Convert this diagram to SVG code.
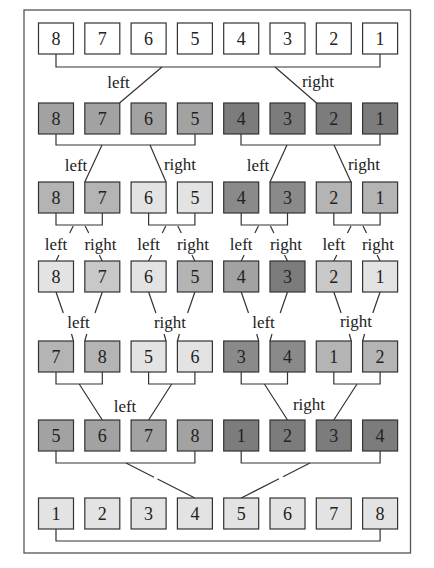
<svg xmlns="http://www.w3.org/2000/svg" width="434" height="568" viewBox="0 0 434 568">
<style>
.b{stroke:#333;stroke-width:1.2}
.t{font-family:"Liberation Serif","Times New Roman",serif;font-size:18px;fill:#222;text-anchor:middle}
.l{font-family:"Liberation Serif","Times New Roman",serif;font-size:17px;fill:#222;text-anchor:middle}
.c{fill:none;stroke:#333;stroke-width:1.2}
.w{fill:#fff}.g1{fill:#e3e3e3}.g2{fill:#c8c8c8}.g3{fill:#b4b4b4}.g4{fill:#a2a2a2}.g5{fill:#8a8a8a}.g6{fill:#7c7c7c}
</style>
<rect x="24" y="10" width="386.5" height="543" fill="#fff" stroke="#555" stroke-width="1.3"/>
<g id="connectors" class="c">
<path d="M56 54V67H380V54"/>
<path d="M162 67L119.5 103M275 67L316.5 103"/>
<path d="M56 134V145H195V134M241 134V145H380V134"/>
<path d="M102 145L84.8 182M150 145L166 182M287 145L270 182M334 145L351 182"/>
<path d="M56 213V225H102.3V213M148.6 213V225H194.9V213M241.2 213V225H287.5V213M333.8 213V225H380.1V213"/>
<path d="M73.2 226L69.7 233M59 255L56 261M85.2 226L88.7 233M99.3 255L102.3 261"/>
<path d="M165.8 226L162.3 233M151.6 255L148.6 261M177.8 226L181.3 233M191.9 255L194.9 261"/>
<path d="M258.4 226L254.9 233M244.2 255L241.2 261M270.4 226L273.9 233M284.5 255L287.5 261"/>
<path d="M351 226L347.5 233M336.8 255L333.8 261M363 226L366.5 233M377.1 255L380.1 261"/>
<path d="M56 292L63.3 313M71.5 334L73.5 341M102.3 292L95 313M86.8 334L84.8 341"/>
<path d="M148.6 292L155.9 313M164.1 334L166 341M194.9 292L187.6 313M179.4 334L177.4 341"/>
<path d="M241.2 292L248.5 313M256.7 334L258.7 341M287.5 292L280.2 313M272 334L270 341"/>
<path d="M333.8 292L341.1 313M349.3 334L351.3 341M380.1 292L372.8 313M364.6 334L362.6 341"/>
<path d="M56 372V384H102.3V372M148.6 372V384H194.9V372M241.2 372V384H287.5V372M333.8 372V384H380.1V372"/>
<path d="M79.2 384L102.3 420M171.7 384L148.6 420M264.4 384L287.5 420M357 384L333.8 420"/>
<path d="M56 451V463H194.9V451M241.2 451V463H380.1V451"/>
<path d="M126 463L154 477.3M157.5 479L194.9 498M310 463L283 476.7M279 478.8L241.2 498"/>
<path d="M56 529V541H380.1V529"/>
</g>
<g id="labels">
<text class="l" x="118.5" y="88">left</text>
<text class="l" x="318" y="87">right</text>
<text class="l" x="76" y="170.5">left</text>
<text class="l" x="180" y="170">right</text>
<text class="l" x="258" y="170.5">left</text>
<text class="l" x="364" y="170">right</text>
<text class="l" x="56" y="250">left</text>
<text class="l" x="100.5" y="250">right</text>
<text class="l" x="148.6" y="250">left</text>
<text class="l" x="193" y="250">right</text>
<text class="l" x="241.2" y="250">left</text>
<text class="l" x="286" y="250">right</text>
<text class="l" x="333.8" y="250">left</text>
<text class="l" x="378" y="250">right</text>
<text class="l" x="78.5" y="328">left</text>
<text class="l" x="170" y="328">right</text>
<text class="l" x="263.5" y="328">left</text>
<text class="l" x="356" y="327">right</text>
<text class="l" x="125" y="411.5">left</text>
<text class="l" x="309" y="410">right</text>
</g>
<g id="row1">
<g id="r1n0"><rect class="b w" x="38.5" y="23" width="35" height="31"/><text class="t" x="56" y="45">8</text></g>
<g id="r1n1"><rect class="b w" x="84.8" y="23" width="35" height="31"/><text class="t" x="102.3" y="45">7</text></g>
<g id="r1n2"><rect class="b w" x="131.1" y="23" width="35" height="31"/><text class="t" x="148.6" y="45">6</text></g>
<g id="r1n3"><rect class="b w" x="177.4" y="23" width="35" height="31"/><text class="t" x="194.9" y="45">5</text></g>
<g id="r1n4"><rect class="b w" x="223.7" y="23" width="35" height="31"/><text class="t" x="241.2" y="45">4</text></g>
<g id="r1n5"><rect class="b w" x="270" y="23" width="35" height="31"/><text class="t" x="287.5" y="45">3</text></g>
<g id="r1n6"><rect class="b w" x="316.3" y="23" width="35" height="31"/><text class="t" x="333.8" y="45">2</text></g>
<g id="r1n7"><rect class="b w" x="362.6" y="23" width="35" height="31"/><text class="t" x="380.1" y="45">1</text></g>
</g>
<g id="row2">
<g id="r2n0"><rect class="b g4" x="38.5" y="103" width="35" height="31"/><text class="t" x="56" y="125">8</text></g>
<g id="r2n1"><rect class="b g4" x="84.8" y="103" width="35" height="31"/><text class="t" x="102.3" y="125">7</text></g>
<g id="r2n2"><rect class="b g4" x="131.1" y="103" width="35" height="31"/><text class="t" x="148.6" y="125">6</text></g>
<g id="r2n3"><rect class="b g4" x="177.4" y="103" width="35" height="31"/><text class="t" x="194.9" y="125">5</text></g>
<g id="r2n4"><rect class="b g6" x="223.7" y="103" width="35" height="31"/><text class="t" x="241.2" y="125">4</text></g>
<g id="r2n5"><rect class="b g6" x="270" y="103" width="35" height="31"/><text class="t" x="287.5" y="125">3</text></g>
<g id="r2n6"><rect class="b g6" x="316.3" y="103" width="35" height="31"/><text class="t" x="333.8" y="125">2</text></g>
<g id="r2n7"><rect class="b g6" x="362.6" y="103" width="35" height="31"/><text class="t" x="380.1" y="125">1</text></g>
</g>
<g id="row3">
<g id="r3n0"><rect class="b g3" x="38.5" y="182" width="35" height="31"/><text class="t" x="56" y="204">8</text></g>
<g id="r3n1"><rect class="b g3" x="84.8" y="182" width="35" height="31"/><text class="t" x="102.3" y="204">7</text></g>
<g id="r3n2"><rect class="b g1" x="131.1" y="182" width="35" height="31"/><text class="t" x="148.6" y="204">6</text></g>
<g id="r3n3"><rect class="b g1" x="177.4" y="182" width="35" height="31"/><text class="t" x="194.9" y="204">5</text></g>
<g id="r3n4"><rect class="b g5" x="223.7" y="182" width="35" height="31"/><text class="t" x="241.2" y="204">4</text></g>
<g id="r3n5"><rect class="b g5" x="270" y="182" width="35" height="31"/><text class="t" x="287.5" y="204">3</text></g>
<g id="r3n6"><rect class="b g3" x="316.3" y="182" width="35" height="31"/><text class="t" x="333.8" y="204">2</text></g>
<g id="r3n7"><rect class="b g3" x="362.6" y="182" width="35" height="31"/><text class="t" x="380.1" y="204">1</text></g>
</g>
<g id="row4">
<g id="r4n0"><rect class="b g1" x="38.5" y="261" width="35" height="31"/><text class="t" x="56" y="283">8</text></g>
<g id="r4n1"><rect class="b g2" x="84.8" y="261" width="35" height="31"/><text class="t" x="102.3" y="283">7</text></g>
<g id="r4n2"><rect class="b g1" x="131.1" y="261" width="35" height="31"/><text class="t" x="148.6" y="283">6</text></g>
<g id="r4n3"><rect class="b g3" x="177.4" y="261" width="35" height="31"/><text class="t" x="194.9" y="283">5</text></g>
<g id="r4n4"><rect class="b g4" x="223.7" y="261" width="35" height="31"/><text class="t" x="241.2" y="283">4</text></g>
<g id="r4n5"><rect class="b g6" x="270" y="261" width="35" height="31"/><text class="t" x="287.5" y="283">3</text></g>
<g id="r4n6"><rect class="b g2" x="316.3" y="261" width="35" height="31"/><text class="t" x="333.8" y="283">2</text></g>
<g id="r4n7"><rect class="b g1" x="362.6" y="261" width="35" height="31"/><text class="t" x="380.1" y="283">1</text></g>
</g>
<g id="row5">
<g id="r5n0"><rect class="b g3" x="38.5" y="341" width="35" height="31"/><text class="t" x="56" y="363">7</text></g>
<g id="r5n1"><rect class="b g3" x="84.8" y="341" width="35" height="31"/><text class="t" x="102.3" y="363">8</text></g>
<g id="r5n2"><rect class="b g1" x="131.1" y="341" width="35" height="31"/><text class="t" x="148.6" y="363">5</text></g>
<g id="r5n3"><rect class="b g1" x="177.4" y="341" width="35" height="31"/><text class="t" x="194.9" y="363">6</text></g>
<g id="r5n4"><rect class="b g5" x="223.7" y="341" width="35" height="31"/><text class="t" x="241.2" y="363">3</text></g>
<g id="r5n5"><rect class="b g5" x="270" y="341" width="35" height="31"/><text class="t" x="287.5" y="363">4</text></g>
<g id="r5n6"><rect class="b g3" x="316.3" y="341" width="35" height="31"/><text class="t" x="333.8" y="363">1</text></g>
<g id="r5n7"><rect class="b g3" x="362.6" y="341" width="35" height="31"/><text class="t" x="380.1" y="363">2</text></g>
</g>
<g id="row6">
<g id="r6n0"><rect class="b g4" x="38.5" y="420" width="35" height="31"/><text class="t" x="56" y="442">5</text></g>
<g id="r6n1"><rect class="b g4" x="84.8" y="420" width="35" height="31"/><text class="t" x="102.3" y="442">6</text></g>
<g id="r6n2"><rect class="b g4" x="131.1" y="420" width="35" height="31"/><text class="t" x="148.6" y="442">7</text></g>
<g id="r6n3"><rect class="b g4" x="177.4" y="420" width="35" height="31"/><text class="t" x="194.9" y="442">8</text></g>
<g id="r6n4"><rect class="b g6" x="223.7" y="420" width="35" height="31"/><text class="t" x="241.2" y="442">1</text></g>
<g id="r6n5"><rect class="b g6" x="270" y="420" width="35" height="31"/><text class="t" x="287.5" y="442">2</text></g>
<g id="r6n6"><rect class="b g6" x="316.3" y="420" width="35" height="31"/><text class="t" x="333.8" y="442">3</text></g>
<g id="r6n7"><rect class="b g6" x="362.6" y="420" width="35" height="31"/><text class="t" x="380.1" y="442">4</text></g>
</g>
<g id="row7">
<g id="r7n0"><rect class="b g1" x="38.5" y="498" width="35" height="31"/><text class="t" x="56" y="520">1</text></g>
<g id="r7n1"><rect class="b g1" x="84.8" y="498" width="35" height="31"/><text class="t" x="102.3" y="520">2</text></g>
<g id="r7n2"><rect class="b g1" x="131.1" y="498" width="35" height="31"/><text class="t" x="148.6" y="520">3</text></g>
<g id="r7n3"><rect class="b g1" x="177.4" y="498" width="35" height="31"/><text class="t" x="194.9" y="520">4</text></g>
<g id="r7n4"><rect class="b g1" x="223.7" y="498" width="35" height="31"/><text class="t" x="241.2" y="520">5</text></g>
<g id="r7n5"><rect class="b g1" x="270" y="498" width="35" height="31"/><text class="t" x="287.5" y="520">6</text></g>
<g id="r7n6"><rect class="b g1" x="316.3" y="498" width="35" height="31"/><text class="t" x="333.8" y="520">7</text></g>
<g id="r7n7"><rect class="b g1" x="362.6" y="498" width="35" height="31"/><text class="t" x="380.1" y="520">8</text></g>
</g>
</svg>
